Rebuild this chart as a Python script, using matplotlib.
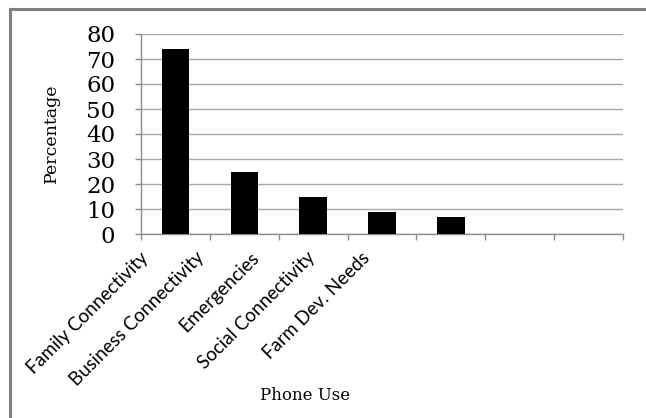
import matplotlib
matplotlib.use("Agg")
import matplotlib.pyplot as plt
from matplotlib.lines import Line2D
import numpy as np

# Phone use survey (percentage of respondents)
categories = ["Family Connectivity", "Business Connectivity", "Emergencies",
              "Social Connectivity", "Farm Dev. Needs", "", ""]
values = [74, 25, 15, 9, 7, 0, 0]
y_ticks = [0, 10, 20, 30, 40, 50, 60, 70, 80]

W, H, DPI = 646, 418, 100
fig = plt.figure(figsize=(W / DPI, H / DPI), dpi=DPI)
ax = fig.add_axes([141 / W, 1 - 234 / H, (623 - 141) / W, (234 - 34) / H])

n = len(categories)
x = np.arange(n)
labelled = [i for i, c in enumerate(categories) if c]
ax.bar(x[labelled], [values[i] for i in labelled], width=0.4,
       color="black", zorder=3)

ax.set_xlim(-0.5, n - 0.5)
ax.set_ylim(0, 80)
ax.set_yticks(y_ticks)
ax.yaxis.grid(True, color="#a6a6a6", linewidth=1.0, zorder=0)

grey = "#8c8c8c"
for side in ("top", "right"):
    ax.spines[side].set_visible(False)
for side in ("left", "bottom"):
    ax.spines[side].set_color(grey)
    ax.spines[side].set_linewidth(1.0)

serif = ["DejaVu Serif"]
ax.tick_params(axis="y", direction="out", length=4.5, width=1.0, color=grey,
               pad=14, labelsize=16.5)
for lbl in ax.get_yticklabels():
    lbl.set_family(serif)

# Category boundaries carry the x tick marks
ax.set_xticks(np.arange(n + 1) - 0.5)
ax.set_xticklabels([])
ax.tick_params(axis="x", direction="out", length=4, width=1.0, color=grey)

# Rotated category labels
for i, c in enumerate(categories):
    if not c:
        continue
    dx_px = -36 - 13.36 * i
    dy_px = -15
    ax.annotate(c, xy=(i, 0), xycoords=("data", "axes fraction"),
                xytext=(dx_px * 0.72, dy_px * 0.72), textcoords="offset points",
                rotation=45, rotation_mode="anchor", ha="right", va="top",
                fontsize=13.5, family=["Lato", "DejaVu Sans"])

ax.set_ylabel("Percentage", family=serif, fontsize=12.5)
ax.yaxis.set_label_coords(-0.168, 0.505)
ax.set_xlabel("Phone Use", family=serif, fontsize=12)
ax.xaxis.set_label_coords(0.34, -0.805)
ax.xaxis.label.set_va("center")

# Chart frame
fig.add_artist(Line2D([9.5 / W, 1.0], [1 - 8.5 / H, 1 - 8.5 / H],
                      transform=fig.transFigure, color="#808080", linewidth=2.2))
fig.add_artist(Line2D([9.5 / W, 9.5 / W], [0.0, 1 - 8.5 / H],
                      transform=fig.transFigure, color="#808080", linewidth=2.2))

fig.savefig("out.png", dpi=DPI)
